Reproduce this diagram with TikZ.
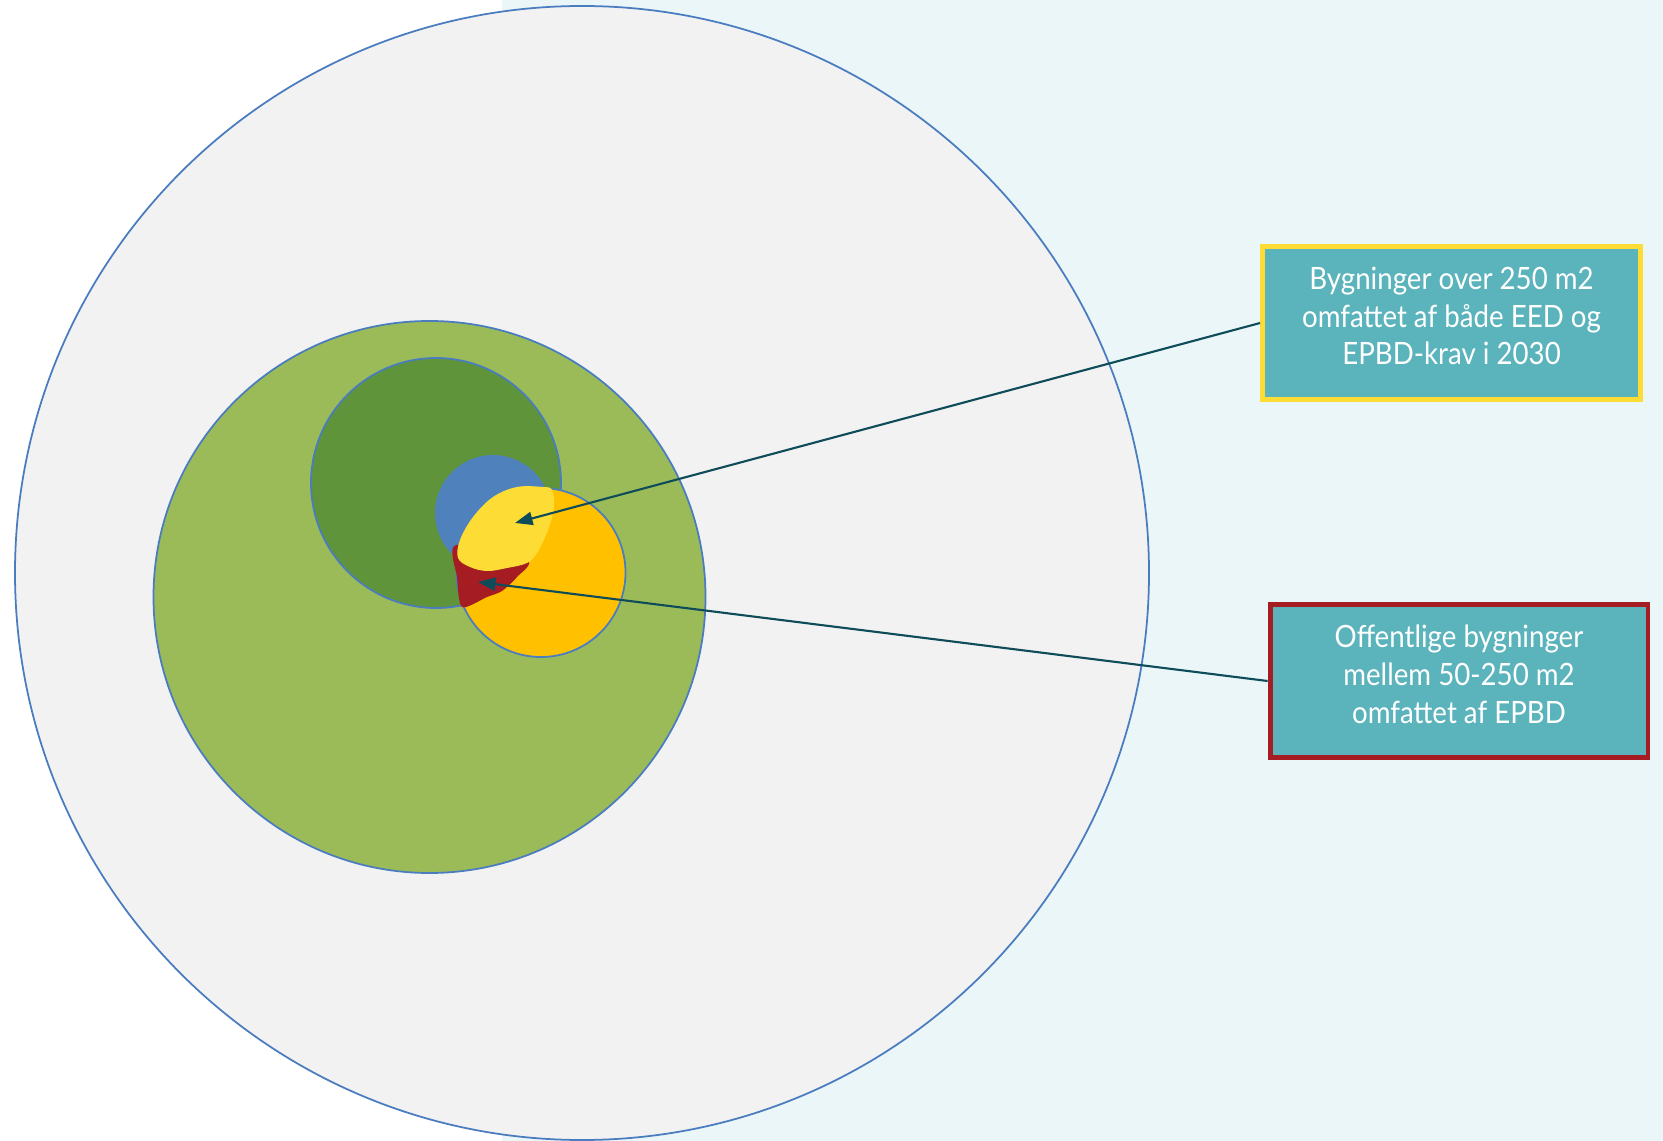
\documentclass[tikz,border=0pt]{standalone}
\usepackage{fontspec}
\newfontfamily\boxfont[FakeStretch=0.9]{Lato}
\usepackage{tikz}
\usetikzlibrary{arrows.meta}

\definecolor{bgblue}{HTML}{EAF6F7}
\definecolor{ringgray}{HTML}{F2F2F2}
\definecolor{edgeblue}{HTML}{4A7CC0}
\definecolor{lightgreen}{HTML}{9BBB59}
\definecolor{darkgreen}{HTML}{5F943A}
\definecolor{midblue}{HTML}{4F81BD}
\definecolor{amber}{HTML}{FFC000}
\definecolor{lemon}{HTML}{FDDC36}
\definecolor{darkred}{HTML}{A51D22}
\definecolor{boxteal}{HTML}{5BB3BC}
\definecolor{arrowteal}{HTML}{0E4C5A}

\tikzset{
	ring/.style={draw=edgeblue, line width=1pt},
	infobox/.style={fill=boxteal, line width=2.8pt, minimum width=7.56cm, minimum height=3.06cm,
		align=center, text=white, text depth=8pt, font=\boxfont\fontsize{17.5}{21.5}\selectfont},
	pointer/.style={draw=arrowteal, line width=1.2pt, -{Triangle[length=10pt,width=7.5pt]}}
}

\begin{document}
\begin{tikzpicture}[x=0.02cm,y=-0.02cm]
\useasboundingbox (0,0) rectangle (1663,1141);
\fill[white] (0,0) rectangle (1663,1141);
\fill[bgblue] (502,0) rectangle (1663,1141);
\filldraw[ring, fill=ringgray] (582,573) circle (567);
\filldraw[ring, fill=lightgreen] (429.5,597) circle (276);
\filldraw[ring, fill=darkgreen] (436,483) circle (125);
\fill[midblue] (493,513) circle (58);
\filldraw[ring, fill=amber] (541,572.5) circle (84.5);
\fill[darkred] plot[smooth cycle, tension=0.45] coordinates {
	(456,545) (527,560) (517,577) (502,591) (487,597) (462,607) (457,577)};
\fill[lemon] plot[smooth cycle, tension=0.6] coordinates {
	(460,540) (473,517) (493,497) (517,487) (543,487) (552,490) (554,507) (548,530)
	(537,553) (527,563) (507,568) (487,571) (470,567) (458,558)};
\coordinate (yellowspot) at (515,523);
\coordinate (redspot) at (478,582);
\node[infobox, draw=lemon] (bothbox) at (1451.5,323)
	{Bygninger over 250 m2\\omfattet af både EED og\\EPBD-krav i 2030};
\node[infobox, draw=darkred] (publicbox) at (1459,681)
	{Offentlige bygninger\\mellem 50-250 m2\\omfattet af EPBD};
\draw[pointer] (bothbox.west) -- (yellowspot);
\draw[pointer] (publicbox.west) -- (redspot);
\end{tikzpicture}
\end{document}
